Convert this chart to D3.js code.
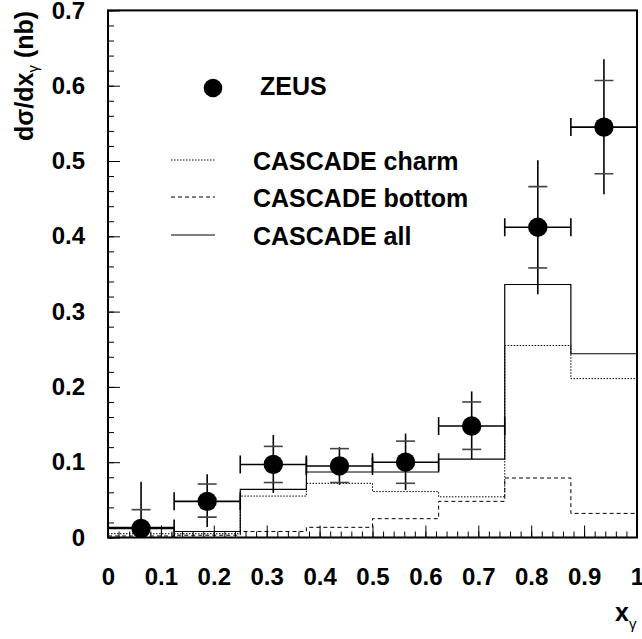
<!DOCTYPE html>
<html>
<head>
<meta charset="utf-8">
<script src="https://cdn.jsdelivr.net/npm/d3@7"></script>
<style>
  body { margin: 0; background: white; }
  text { font-family: "Liberation Sans", Arial, Helvetica, sans-serif; }
</style>
</head>
<body>
<svg id="chart" width="642" height="639"></svg>
<script>
// bin edges in x_gamma
const binEdges = [0, 0.125, 0.25, 0.375, 0.5, 0.625, 0.75, 0.875, 1];

// ZEUS data points (bin centres), with inner (stat) and outer (total) error ends
const zeusX = [0.0625, 0.1875, 0.3125, 0.4375, 0.5625, 0.6875, 0.8125, 0.9375];
const zeusY = [0.012, 0.048, 0.097, 0.095, 0.100, 0.148, 0.412, 0.545];
const statHigh = [0.037, 0.071, 0.121, 0.118, 0.128, 0.180, 0.466, 0.607];
const statLow  = [-0.013, 0.027, 0.073, 0.073, 0.072, 0.117, 0.358, 0.483];
const totHigh  = [0.074, 0.084, 0.136, 0.120, 0.138, 0.194, 0.501, 0.635];
const totLow   = [0, 0.014, 0.059, 0.070, 0.063, 0.104, 0.323, 0.456];

// CASCADE predictions per bin
const cascadeCharm  = [0.005, 0.005, 0.055, 0.072, 0.061, 0.054, 0.255, 0.211];
const cascadeBottom = [0.002, 0.003, 0.008, 0.0135, 0.025, 0.048, 0.079, 0.032];
const cascadeAll    = [0.0135, 0.008, 0.064, 0.087, 0.087, 0.104, 0.336, 0.244];

const xTicks = [0, 0.1, 0.2, 0.3, 0.4, 0.5, 0.6, 0.7, 0.8, 0.9, 1];
const yTicks = [0, 0.1, 0.2, 0.3, 0.4, 0.5, 0.6, 0.7];

const legendItems = [
    { label: "CASCADE charm", dash: "1.5,1.5", width: 1 },
    { label: "CASCADE bottom", dash: "4,3", width: 1 },
    { label: "CASCADE all", dash: null, width: 1.2 }
];

let margin = { left: 108, right: 5, top: 10.4, bottom: 101.5 };
let width = 642, height = 639;

let svg = d3.select("#chart");

let x = d3.scaleLinear().domain([0, 1]).range([margin.left, width - margin.right]);
let y = d3.scaleLinear().domain([0, 0.7]).range([height - margin.bottom, margin.top]);

let fmt = d3.format("~g");

svg.append("defs").append("clipPath").attr("id", "plotclip")
    .append("rect")
    .attr("x", x(0)).attr("y", y(0.7))
    .attr("width", x(1) - x(0)).attr("height", y(0) - y(0.7));

// minor ticks (inward)
let xMinor = d3.range(0, 1.0001, 0.02);
let yMinor = d3.range(0, 0.7001, 0.02);

svg.append("g")
    .attr("transform", `translate(0,${y(0)})`)
    .call(d3.axisBottom(x).tickValues(xMinor).tickSize(-6).tickFormat(""))
    .call(g => g.select(".domain").remove())
    .call(g => g.selectAll("line").attr("stroke", "#000").attr("stroke-width", 1));

svg.append("g")
    .attr("transform", `translate(${x(0)},0)`)
    .call(d3.axisLeft(y).tickValues(yMinor).tickSize(-6).tickFormat(""))
    .call(g => g.select(".domain").remove())
    .call(g => g.selectAll("line").attr("stroke", "#000").attr("stroke-width", 1));

// major ticks + labels
svg.append("g")
    .attr("transform", `translate(0,${y(0)})`)
    .call(d3.axisBottom(x).tickValues(xTicks).tickSize(-12).tickPadding(30).tickFormat(fmt))
    .call(g => g.select(".domain").remove())
    .call(g => g.selectAll("line").attr("stroke", "#000").attr("stroke-width", 1))
    .call(g => g.selectAll("text")
        .attr("font-size", 24).attr("font-weight", "bold").attr("fill", "#000")
        .attr("font-family", "'Liberation Sans', Arial, sans-serif"));

svg.append("g")
    .attr("transform", `translate(${x(0)},0)`)
    .call(d3.axisLeft(y).tickValues(yTicks).tickSize(-12).tickPadding(23).tickFormat(fmt))
    .call(g => g.select(".domain").remove())
    .call(g => g.selectAll("line").attr("stroke", "#000").attr("stroke-width", 1))
    .call(g => g.selectAll("text")
        .attr("font-size", 24).attr("font-weight", "bold").attr("fill", "#000")
        .attr("font-family", "'Liberation Sans', Arial, sans-serif"));

// histograms as step lines
let plot = svg.append("g").attr("clip-path", "url(#plotclip)");

function stepPoints(vals) {
    let pts = vals.map((v, i) => [binEdges[i], v]);
    pts.push([binEdges[binEdges.length - 1], vals[vals.length - 1]]);
    return pts;
}

let stepLine = d3.line()
    .x(d => x(d[0]))
    .y(d => y(d[1]))
    .curve(d3.curveStepAfter);

[
    { vals: cascadeCharm, item: legendItems[0] },
    { vals: cascadeBottom, item: legendItems[1] },
    { vals: cascadeAll, item: legendItems[2] }
].forEach(s => {
    plot.append("path")
        .attr("d", stepLine(stepPoints(s.vals)))
        .attr("fill", "none")
        .attr("stroke", "#000")
        .attr("stroke-width", s.item.width)
        .attr("stroke-dasharray", s.item.dash);
});

// ZEUS points with error bars
let capW = 9.5;
zeusX.forEach((xv, i) => {
    let g = plot.append("g").attr("stroke", "#000").attr("stroke-width", 1.6);
    let lo = binEdges[i], hi = binEdges[i + 1];
    // horizontal bar with end caps
    g.append("line").attr("x1", x(lo)).attr("x2", x(hi)).attr("y1", y(zeusY[i])).attr("y2", y(zeusY[i]));
    g.append("line").attr("x1", x(lo)).attr("x2", x(lo)).attr("y1", y(zeusY[i]) - 9).attr("y2", y(zeusY[i]) + 9);
    g.append("line").attr("x1", x(hi)).attr("x2", x(hi)).attr("y1", y(zeusY[i]) - 9).attr("y2", y(zeusY[i]) + 9);
    // vertical total error
    g.append("line").attr("x1", x(xv)).attr("x2", x(xv)).attr("y1", y(totLow[i])).attr("y2", y(totHigh[i]));
    // stat caps
    [statHigh[i], statLow[i]].forEach(v => {
        g.append("line").attr("x1", x(xv) - capW).attr("x2", x(xv) + capW)
            .attr("y1", y(v)).attr("y2", y(v)).attr("stroke", "#444");
    });
    plot.append("circle").attr("cx", x(xv)).attr("cy", y(zeusY[i])).attr("r", 9.7).attr("fill", "#000");
});

// frame
svg.append("rect")
    .attr("x", x(0)).attr("y", y(0.7))
    .attr("width", x(1) - x(0)).attr("height", y(0) - y(0.7))
    .attr("fill", "none").attr("stroke", "#000").attr("stroke-width", 2);

// legend
let legend = svg.append("g").attr("font-weight", "bold").attr("font-size", 25);
legend.append("circle").attr("cx", 213).attr("cy", 88).attr("r", 9.3).attr("fill", "#000");
legend.append("text").attr("x", 260).attr("y", 95).text("ZEUS");

let legendY = [160, 197, 235];
legendItems.forEach((it, i) => {
    legend.append("line")
        .attr("x1", 171).attr("x2", 215)
        .attr("y1", legendY[i]).attr("y2", legendY[i])
        .attr("stroke", "#000").attr("stroke-width", it.width)
        .attr("stroke-dasharray", it.dash);
    legend.append("text").attr("x", 253).attr("y", legendY[i] + 10).text(it.label);
});

// axis titles
let yTitle = svg.append("text")
    .attr("transform", "translate(33,141) rotate(-90)")
    .attr("font-size", 25).attr("font-weight", "bold");
yTitle.append("tspan").text("d\u03c3/dx");
yTitle.append("tspan").attr("font-size", 15).attr("font-weight", "normal").attr("dy", 5).text("\u03b3");
yTitle.append("tspan").attr("dy", -5).text(" (nb)");

let xTitle = svg.append("text")
    .attr("x", 615).attr("y", 621)
    .attr("font-size", 25).attr("font-weight", "bold");
xTitle.append("tspan").text("x");
xTitle.append("tspan").attr("font-size", 15).attr("font-weight", "normal").attr("dy", 8).text("\u03b3");
</script>
</body>
</html>
